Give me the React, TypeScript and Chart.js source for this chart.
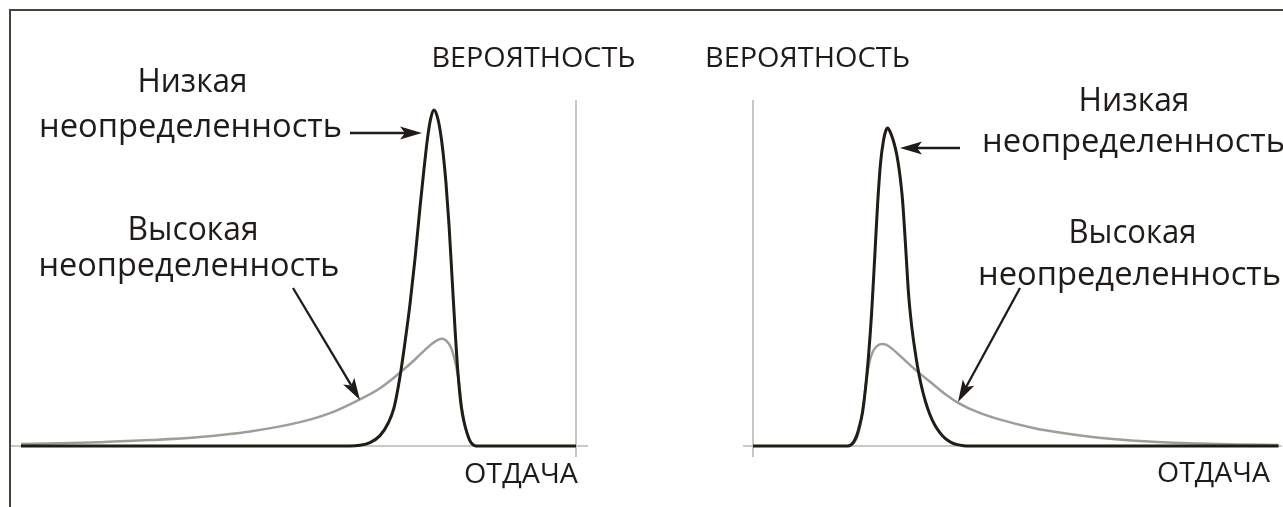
import React, { useEffect, useRef } from "react";
import { Chart, registerables } from "chart.js";

Chart.register(...registerables);

// ---------- DATA (arbitrary return units; probability normalised 0..1) ----------
// Left panel: negatively skewed outcomes
const leftLowX = [-98.06, -39.93, -38.16, -36.4, -34.63, -33.22, -32.16, -31.1, -30.21, -29.33, -28.45, -27.56, -26.86, -26.15, -25.62, -25.09, -24.56, -24.03, -23.5, -22.97, -22.44, -21.91, -21.38, -20.85, -20.32, -19.79, -19.26, -18.73, -18.2, -17.67, 0];
const leftLowY = [0, 0, 0.002, 0.01, 0.03, 0.065, 0.11, 0.2, 0.3, 0.41, 0.54, 0.69, 0.8, 0.9, 0.95, 0.971, 0.955, 0.915, 0.85, 0.76, 0.64, 0.49, 0.34, 0.21, 0.12, 0.07, 0.038, 0.015, 0.004, 0, 0];
const leftHighX = [-98.06, -91.17, -84.1, -75.27, -66.43, -57.6, -48.76, -43.46, -38.16, -34.63, -31.1, -28.45, -26.68, -25.27, -24.38, -23.67, -22.97, -22.26, -21.73, -21.2, -20.67, -20.14, -19.61, -19.08, -18.55, -18.02, -17.49];
const leftHighY = [0.006, 0.008, 0.011, 0.017, 0.026, 0.042, 0.069, 0.095, 0.135, 0.167, 0.212, 0.25, 0.278, 0.298, 0.307, 0.31, 0.305, 0.29, 0.268, 0.232, 0.185, 0.105, 0.058, 0.027, 0.009, 0.001, 0];

// Right panel: positively skewed outcomes
const rightLowX = [0, 16.78, 17.31, 17.84, 18.37, 18.9, 19.43, 19.96, 20.49, 21.02, 21.55, 22.08, 22.61, 23.14, 23.5, 23.85, 24.38, 24.91, 25.44, 25.97, 26.5, 27.03, 27.56, 28.09, 28.62, 29.15, 29.86, 30.57, 31.27, 32.16, 33.04, 34.1, 35.16, 36.22, 37.28, 38.34, 93.11];
const rightLowY = [0, 0, 0.003, 0.012, 0.03, 0.06, 0.1, 0.17, 0.265, 0.385, 0.54, 0.7, 0.82, 0.885, 0.91, 0.919, 0.905, 0.88, 0.845, 0.79, 0.71, 0.58, 0.44, 0.35, 0.285, 0.23, 0.172, 0.128, 0.094, 0.062, 0.04, 0.021, 0.01, 0.004, 0.001, 0, 0];
const rightHighX = [16.78, 17.49, 18.02, 18.55, 19.08, 19.61, 20.14, 20.67, 21.2, 21.91, 22.79, 23.67, 24.73, 25.97, 27.74, 29.51, 31.8, 33.92, 36.22, 38.34, 40.64, 43.64, 49.47, 55.48, 61.31, 70.14, 78.98, 86.04, 93.11];
const rightHighY = [0, 0.004, 0.012, 0.03, 0.065, 0.125, 0.195, 0.245, 0.272, 0.288, 0.295, 0.292, 0.28, 0.262, 0.235, 0.21, 0.18, 0.152, 0.126, 0.108, 0.093, 0.077, 0.053, 0.036, 0.024, 0.013, 0.007, 0.004, 0.003];

const yAxisTitle = "ВЕРОЯТНОСТЬ";
const xAxisTitle = "ОТДАЧА";
const lowLabel = ["Низкая", "неопределенность"];
const highLabel = ["Высокая", "неопределенность"];

// ---------- STYLE / LAYOUT ----------
const W = 1283;
const H = 507;
const SPLIT = 641;
const FONT = '"Open Sans", "Noto Sans", "DejaVu Sans", sans-serif';
const INK = "#1f1b18";
const LOW_COLOR = "#201c16";
const HIGH_COLOR = "#9e9d9a";
const AXIS_COLOR = "#cac8c5";

type TextItem = { t: string; cx: number; base: number; w: number; size: number };
type ArrowItem = { x1: number; y1: number; x2: number; y2: number };

const zip = (xs: number[], ys: number[]) => xs.map((x, i) => ({ x, y: ys[i] }));

function drawFitText(ctx: CanvasRenderingContext2D, it: TextItem) {
  ctx.save();
  ctx.font = `${it.size}px ${FONT}`;
  const m = ctx.measureText(it.t).width || 1;
  ctx.translate(it.cx, it.base);
  ctx.scale(it.w / m, 1);
  ctx.textAlign = "center";
  ctx.textBaseline = "alphabetic";
  ctx.fillStyle = INK;
  ctx.fillText(it.t, 0, 0);
  ctx.restore();
}

function drawArrow(ctx: CanvasRenderingContext2D, a: ArrowItem) {
  const ang = Math.atan2(a.y2 - a.y1, a.x2 - a.x1);
  const L = 22, HW = 6.5, N = 5;
  ctx.save();
  ctx.strokeStyle = INK;
  ctx.fillStyle = INK;
  ctx.lineWidth = 2.3;
  ctx.beginPath();
  ctx.moveTo(a.x1, a.y1);
  ctx.lineTo(a.x2 - Math.cos(ang) * (L - N), a.y2 - Math.sin(ang) * (L - N));
  ctx.stroke();
  ctx.translate(a.x2, a.y2);
  ctx.rotate(ang);
  ctx.beginPath();
  ctx.moveTo(0, 0);
  ctx.lineTo(-L, -HW);
  ctx.lineTo(-L + N, 0);
  ctx.lineTo(-L, HW);
  ctx.closePath();
  ctx.fill();
  ctx.restore();
}

type PanelProps = {
  offset: number;
  width: number;
  xMin: number;
  xMax: number;
  padding: { left: number; right: number; top: number; bottom: number };
  low: { x: number; y: number }[];
  high: { x: number; y: number }[];
  texts: TextItem[];
  arrows: ArrowItem[];
};

function Panel(p: PanelProps) {
  const ref = useRef<HTMLCanvasElement | null>(null);
  useEffect(() => {
    const canvas = ref.current;
    if (!canvas) return;
    const axesPlugin = {
      id: "axesLines",
      beforeDatasetsDraw(chart: any) {
        const { ctx, chartArea, scales } = chart;
        const y0 = scales.y.getPixelForValue(0);
        const yTop = scales.y.getPixelForValue(1);
        const x0 = scales.x.getPixelForValue(0);
        ctx.save();
        ctx.strokeStyle = AXIS_COLOR;
        ctx.lineWidth = 2;
        ctx.beginPath();
        ctx.moveTo(chartArea.left, y0);
        ctx.lineTo(chartArea.right, y0);
        ctx.moveTo(x0, yTop);
        ctx.lineTo(x0, y0 + 11);
        ctx.stroke();
        ctx.restore();
      },
    };
    const annPlugin = {
      id: "annotations",
      afterDatasetsDraw(chart: any) {
        const ctx = chart.ctx as CanvasRenderingContext2D;
        ctx.save();
        ctx.translate(-p.offset, 0);
        p.texts.forEach((t) => drawFitText(ctx, t));
        p.arrows.forEach((a) => drawArrow(ctx, a));
        ctx.restore();
      },
    };
    const chart = new Chart(canvas, {
      type: "line",
      data: {
        datasets: [
          {
            data: p.low,
            borderColor: LOW_COLOR,
            borderWidth: 3,
            pointRadius: 0,
            cubicInterpolationMode: "monotone",
            clip: false as any,
            fill: false,
          },
          {
            data: p.high,
            borderColor: HIGH_COLOR,
            borderWidth: 2.5,
            pointRadius: 0,
            cubicInterpolationMode: "monotone",
            clip: false as any,
            fill: false,
          },
        ],
      },
      options: {
        animation: false,
        responsive: false,
        maintainAspectRatio: false,
        events: [],
        layout: { padding: p.padding },
        scales: {
          x: { type: "linear", display: false, min: p.xMin, max: p.xMax },
          y: { type: "linear", display: false, min: 0, max: 1 },
        },
        plugins: { legend: { display: false }, tooltip: { enabled: false } },
      },
      plugins: [axesPlugin, annPlugin],
    });
    let alive = true;
    if ((document as any).fonts && (document as any).fonts.load) {
      (document as any).fonts
        .load(`33px "Open Sans"`, "неопределенность")
        .catch(() => null)
        .then(() => {
          if (alive) chart.update();
        });
    }
    return () => {
      alive = false;
      chart.destroy();
    };
  }, []);
  return (
    <canvas
      ref={ref}
      width={p.width}
      height={H}
      style={{ position: "absolute", left: p.offset, top: 0, width: p.width, height: H }}
    />
  );
}

export default function App() {
  const leftTexts: TextItem[] = [
    { t: lowLabel[0], cx: 192.5, base: 92, w: 110, size: 33 },
    { t: lowLabel[1], cx: 190.5, base: 137, w: 303, size: 33 },
    { t: highLabel[0], cx: 193, base: 240, w: 131, size: 33 },
    { t: highLabel[1], cx: 189, base: 276, w: 301, size: 33 },
    { t: yAxisTitle, cx: 533.5, base: 67, w: 204, size: 28 },
    { t: xAxisTitle, cx: 521, base: 483, w: 114, size: 28 },
  ];
  const leftArrows: ArrowItem[] = [
    { x1: 350, y1: 133, x2: 422, y2: 133 },
    { x1: 293, y1: 288, x2: 360, y2: 400 },
  ];
  const rightTexts: TextItem[] = [
    { t: lowLabel[0], cx: 1134, base: 111, w: 111, size: 33 },
    { t: lowLabel[1], cx: 1133.5, base: 152, w: 303, size: 33 },
    { t: highLabel[0], cx: 1132.5, base: 243, w: 128, size: 33 },
    { t: highLabel[1], cx: 1129.5, base: 285, w: 303, size: 33 },
    { t: yAxisTitle, cx: 807.5, base: 67, w: 205, size: 28 },
    { t: xAxisTitle, cx: 1213.5, base: 482, w: 113, size: 28 },
  ];
  const rightArrows: ArrowItem[] = [
    { x1: 960, y1: 148, x2: 900, y2: 148 },
    { x1: 1020, y1: 288, x2: 958, y2: 402 },
  ];
  return (
    <div
      style={{
        position: "fixed",
        left: 0,
        top: 0,
        width: W,
        height: H,
        overflow: "hidden",
        background: "#ffffff",
      }}
    >
      <Panel
        offset={0}
        width={SPLIT}
        xMin={-100}
        xMax={2.12}
        padding={{ left: 10, right: SPLIT - 588, top: 100, bottom: H - 446 }}
        low={zip(leftLowX, leftLowY)}
        high={zip(leftHighX, leftHighY)}
        texts={leftTexts}
        arrows={leftArrows}
      />
      <Panel
        offset={SPLIT}
        width={W - SPLIT}
        xMin={-1.77}
        xMax={93.64}
        padding={{ left: 743 - SPLIT, right: 0, top: 100, bottom: H - 446 }}
        low={zip(rightLowX, rightLowY)}
        high={zip(rightHighX, rightHighY)}
        texts={rightTexts}
        arrows={rightArrows}
      />
      <div
        style={{
          position: "absolute",
          left: 9,
          top: 9,
          right: -5,
          bottom: -5,
          borderLeft: "2px solid #4a4236",
          borderTop: "2px solid #4a4236",
          pointerEvents: "none",
        }}
      />
    </div>
  );
}
